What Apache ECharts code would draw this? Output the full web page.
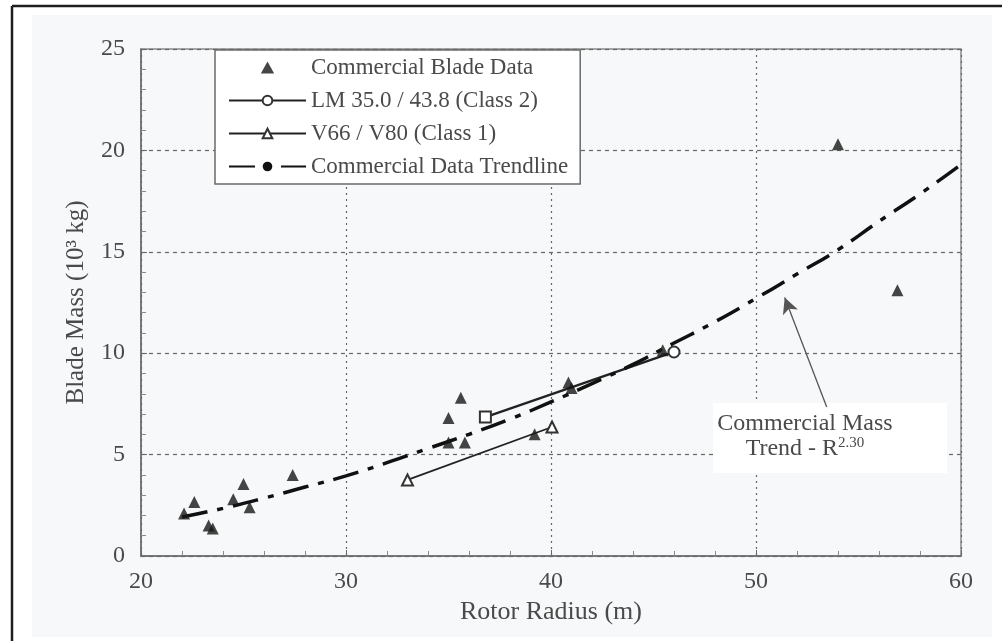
<!DOCTYPE html>
<html>
<head>
<meta charset="utf-8">
<script src="https://cdn.jsdelivr.net/npm/echarts@6/dist/echarts.min.js"></script>
<style>html,body{margin:0;padding:0;background:#fff;}#c{width:1002px;height:641px;}</style>
</head>
<body>
<div id="c"></div>
<script>
// ---- data ----
const commercialBlades = [
  [22.1, 2.1], [22.6, 2.66], [23.3, 1.5], [23.5, 1.35], [24.5, 2.8], [25.0, 3.55],
  [25.3, 2.4], [27.4, 4.0], [35.0, 6.8], [35.0, 5.6], [35.6, 7.8], [35.8, 5.6],
  [39.2, 6.0], [40.85, 8.55], [41.0, 8.28], [45.45, 10.15], [54.0, 20.3], [56.9, 13.1]
];
const lmBlades = [[36.8, 6.85], [46.0, 10.06]];
const vBlades = [[33.0, 3.75], [40.05, 6.36]];
const trendRadius = [22, 24, 26, 28, 30, 32, 34, 36, 38, 40, 42, 44, 46, 48, 50, 52, 54, 56, 58, 60];
const trendMass = [1.92, 2.35, 2.85, 3.4, 3.95, 4.6, 5.3, 6.0, 6.75, 7.6, 8.5, 9.45, 10.5, 11.55, 12.7, 13.9, 15.1, 16.5, 17.85, 19.3];
const arrowFrom = [53.45, 7.35];
const arrowTo = [51.4, 12.75];
const xTicks = [20, 30, 40, 50, 60];
const yTicks = [0, 5, 10, 15, 20, 25];
const seriesNames = ['Commercial Blade Data', 'LM 35.0 / 43.8 (Class 2)', 'V66 / V80 (Class 1)', 'Commercial Data Trendline'];

const SERIF = 'Liberation Serif';
const chart = echarts.init(document.getElementById('c'), null, {renderer: 'canvas'});

const option = {
  backgroundColor: '#ffffff',
  animation: false,
  graphic: [
    {type: 'rect', z: -20, shape: {x: 32, y: 15, width: 960, height: 622}, style: {fill: '#f7f8f9'}},
    {type: 'line', z: -10, shape: {x1: 12, y1: 6, x2: 1002, y2: 6}, style: {stroke: '#1e1e1e', lineWidth: 2.5}},
    {type: 'line', z: -10, shape: {x1: 12, y1: 6, x2: 12, y2: 641}, style: {stroke: '#1e1e1e', lineWidth: 2.5}},
    {type: 'rect', z: 1, shape: {x: 713, y: 403, width: 234, height: 70}, style: {fill: '#ffffff'}},
    {type: 'text', z: 5, x: 805, y: 424, style: {
      text: 'Commercial Mass', fontFamily: SERIF, fontSize: 24, fill: '#4a4a4a',
      align: 'center', verticalAlign: 'middle'}},
    {type: 'text', z: 5, x: 805, y: 449, style: {
      text: '{n|Trend - R}{s|2.30}', align: 'center', verticalAlign: 'middle',
      rich: {
        n: {fontFamily: SERIF, fontSize: 24, fill: '#4a4a4a', color: '#4a4a4a'},
        s: {fontFamily: SERIF, fontSize: 15, fill: '#4a4a4a', color: '#4a4a4a', verticalAlign: 'top', padding: [0, 0, 12, 0]}
      }}}
  ],
  grid: {left: 141, right: 41, top: 49, bottom: 85, show: true, borderColor: '#8a8a8a', borderWidth: 1.5, backgroundColor: 'transparent'},
  legend: {
    orient: 'vertical', left: 215, top: 50,
    data: [
      {name: seriesNames[0], icon: 'path://M5,0 L10,9 L0,9 Z', itemStyle: {color: '#161616'}},
      seriesNames[1], seriesNames[2], seriesNames[3]
    ],
    padding: [6, 12, 6, 13], itemGap: 10, itemWidth: 77, itemHeight: 12,
    symbolKeepAspect: true,
    backgroundColor: '#ffffff', borderColor: '#6a6a6a', borderWidth: 1.5,
    textStyle: {fontFamily: SERIF, fontSize: 23, color: '#4a4a4a'},
    selectedMode: false
  },
  xAxis: {
    type: 'value', min: xTicks[0], max: xTicks[xTicks.length - 1], interval: 10,
    name: 'Rotor Radius (m)', nameLocation: 'middle', nameGap: 42,
    nameTextStyle: {fontFamily: SERIF, fontSize: 26, color: '#4a4a4a'},
    axisLine: {show: true, lineStyle: {color: '#6a6a6a', width: 1.5}},
    axisTick: {show: true, inside: true, length: 6, lineStyle: {color: '#6a6a6a'}},
    minorTick: {show: true, splitNumber: 5, length: 5, lineStyle: {color: '#8a8a8a'}},
    axisLabel: {fontFamily: SERIF, fontSize: 24, color: '#4a4a4a', margin: 14},
    splitLine: {show: true, lineStyle: {type: [2, 4], color: '#666', width: 1.2}}
  },
  yAxis: {
    type: 'value', min: yTicks[0], max: yTicks[yTicks.length - 1], interval: 5,
    name: 'Blade Mass (10³ kg)', nameLocation: 'middle', nameGap: 52, nameRotate: 90,
    nameTextStyle: {fontFamily: SERIF, fontSize: 25, color: '#4a4a4a'},
    axisLine: {show: true, lineStyle: {color: '#6a6a6a', width: 1.5}},
    axisTick: {show: true, inside: true, length: 6, lineStyle: {color: '#6a6a6a'}},
    minorTick: {show: true, splitNumber: 5, length: 5, lineStyle: {color: '#8a8a8a'}},
    axisLabel: {fontFamily: SERIF, fontSize: 24, color: '#4a4a4a', margin: 16},
    splitLine: {show: true, lineStyle: {type: [4, 4], color: '#666', width: 1.2}}
  },
  series: [
    {
      name: seriesNames[0], type: 'scatter', z: 4,
      symbol: 'triangle', symbolSize: 12,
      itemStyle: {color: '#161616'},
      data: commercialBlades
    },
    {
      name: seriesNames[1], type: 'line', z: 3,
      symbol: 'emptyCircle', symbolSize: 11, showAllSymbol: true,
      lineStyle: {color: '#222', width: 2.4},
      itemStyle: {color: '#333', borderWidth: 1.3},
      data: [{value: lmBlades[0], symbol: 'emptyRect'}, {value: lmBlades[1]}]
    },
    {
      name: seriesNames[2], type: 'line', z: 3,
      symbol: 'emptyTriangle', symbolSize: 11, showAllSymbol: true,
      lineStyle: {color: '#222', width: 1.8},
      itemStyle: {color: '#333', borderWidth: 1.3},
      data: vBlades
    },
    {
      name: seriesNames[3], type: 'line', z: 3, smooth: true,
      symbol: 'none',
      lineStyle: {color: '#111', width: 3.5, type: [26, 10, 6, 10]},
      itemStyle: {color: '#111'},
      data: trendRadius.map((r, i) => [r, trendMass[i]]),
      markLine: {
        silent: true, animation: false,
        symbol: ['none', 'arrow'], symbolSize: [12, 16],
        label: {show: false},
        lineStyle: {color: '#555', width: 1.3, type: 'solid'},
        data: [[{coord: arrowFrom}, {coord: arrowTo}]]
      }
    }
  ]
};
chart.setOption(option);
</script>
</body>
</html>
